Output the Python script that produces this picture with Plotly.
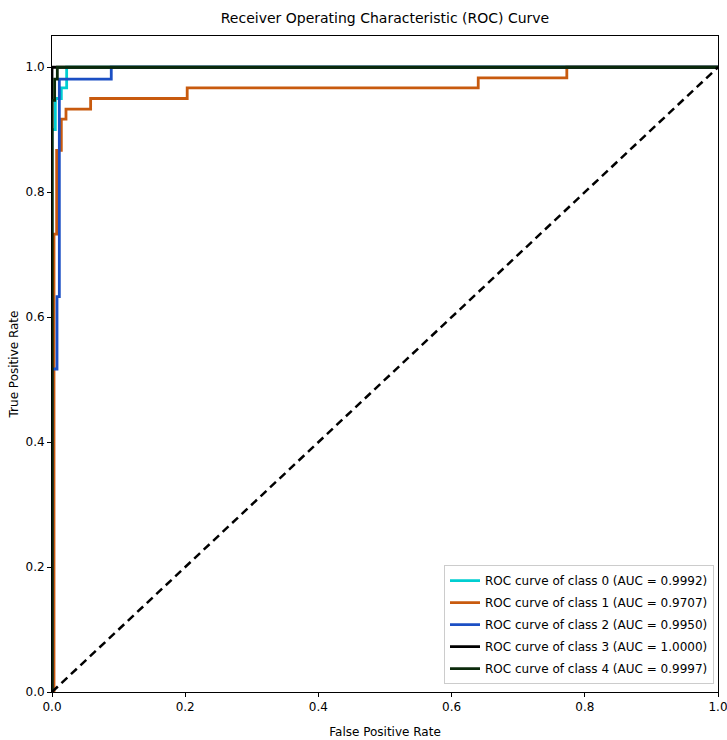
import plotly.graph_objects as go

# Data
class_names = ["ROC curve of class 0 (AUC = 0.9992)",
               "ROC curve of class 1 (AUC = 0.9707)",
               "ROC curve of class 2 (AUC = 0.9950)",
               "ROC curve of class 3 (AUC = 1.0000)",
               "ROC curve of class 4 (AUC = 0.9997)"]

fpr_0 = [0, 0, 0.005, 0.005, 0.014, 0.014, 0.022, 0.022, 1.0]
tpr_0 = [0, 0.9, 0.9, 0.95, 0.95, 0.967, 0.967, 1.0, 1.0]

fpr_1 = [0, 0.003, 0.003, 0.007, 0.007, 0.014, 0.014, 0.021, 0.021, 0.058, 0.058,
         0.203, 0.203, 0.640, 0.640, 0.773, 0.773, 1.0]
tpr_1 = [0, 0, 0.733, 0.733, 0.867, 0.867, 0.917, 0.917, 0.933, 0.933, 0.950,
         0.950, 0.967, 0.967, 0.983, 0.983, 1.0, 1.0]

fpr_2 = [0, 0, 0.0075, 0.0075, 0.011, 0.011, 0.089, 0.089, 1.0]
tpr_2 = [0, 0.517, 0.517, 0.633, 0.633, 0.981, 0.981, 1.0, 1.0]

fpr_3 = [0, 0, 1.0]
tpr_3 = [0, 1.0, 1.0]

fpr_4 = [0, 0, 0.004, 0.004, 0.008, 0.008, 1.0]
tpr_4 = [0, 0.947, 0.947, 0.981, 0.981, 1.0, 1.0]

diag_x = [0, 1]
diag_y = [0, 1]

tick_vals = [0, 0.2, 0.4, 0.6, 0.8, 1.0]
tick_text = ["0.0", "0.2", "0.4", "0.6", "0.8", "1.0"]

colors = ["#00CED1", "#C85A0E", "#1B4FC4", "#000000", "#0B2A0B"]

fprs = [fpr_0, fpr_1, fpr_2, fpr_3, fpr_4]
tprs = [tpr_0, tpr_1, tpr_2, tpr_3, tpr_4]

fig = go.Figure()
for i, (name, fx, ty, c) in enumerate(zip(class_names, fprs, tprs, colors)):
    fig.add_trace(go.Scatter(x=fx, y=ty, mode="lines", name=name,
                             legendgroup=f"g{i}",
                             line=dict(color=c, width=2.8)))

fig.add_trace(go.Scatter(x=diag_x, y=diag_y, mode="lines", showlegend=False,
                         line=dict(color="black", width=2.5, dash="8px,5px")))

font = "DejaVu Sans"
fig.update_layout(
    width=727, height=740,
    margin=dict(l=52, r=9, t=36, b=48, autoexpand=False),
    paper_bgcolor="white", plot_bgcolor="white",
    font=dict(family=font, size=12, color="black"),
    title=dict(text="Receiver Operating Characteristic (ROC) Curve",
               x=0.5, xref="paper", xanchor="center",
               yref="container", y=1 - 18 / 740, yanchor="middle",
               font=dict(size=14, family=font, color="black")),
    xaxis=dict(range=[0, 1.0], tickvals=tick_vals, ticktext=tick_text,
               showgrid=False, zeroline=False, showline=True, linecolor="black",
               linewidth=1, mirror=True, ticks="outside", ticklen=4,
               tickcolor="black", automargin=False, ticklabeloverflow="allow",
               title=dict(text="False Positive Rate", standoff=14,
                          font=dict(size=12))),
    yaxis=dict(range=[0, 1.05], tickvals=tick_vals, ticktext=tick_text,
               showgrid=False, zeroline=False, showline=True, linecolor="black",
               linewidth=1, mirror=True, ticks="outside", ticklen=4,
               tickcolor="black", automargin=False,
               title=dict(text="True Positive Rate", standoff=4,
                          font=dict(size=12))),
    legend=dict(x=0.994, y=0.012, xanchor="right", yanchor="bottom",
                bgcolor="white", bordercolor="#CCCCCC", borderwidth=1,
                font=dict(size=12), itemwidth=30, tracegroupgap=3),
)

fig.write_html(
    "out.html",
    config={"displayModeBar": False},
    post_script="document.body.style.margin='0';document.body.style.overflow='hidden';",
)
